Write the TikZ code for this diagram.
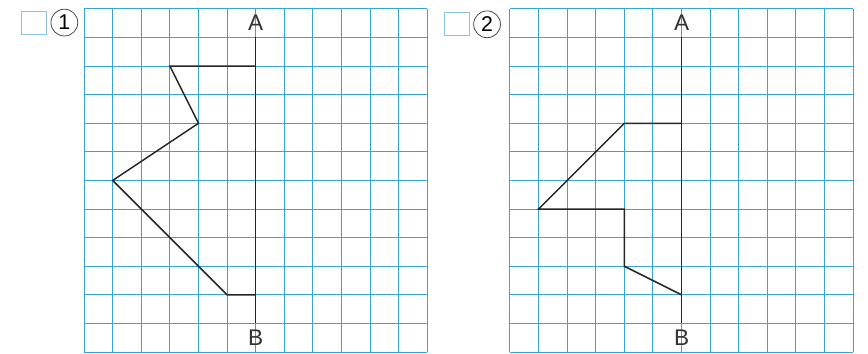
\documentclass[tikz,border=0pt]{standalone}
\usepackage{fontspec}
\setsansfont{Liberation Sans}
\usetikzlibrary{positioning}
\definecolor{gridblue}{RGB}{55,165,215}
\definecolor{boxblue}{RGB}{140,195,225}

\tikzset{
	gridline/.style={gridblue, line width=0.8pt, step=1},
	figline/.style={black!85, line width=1.2pt, line join=miter},
	axislabel/.style={font=\sffamily\fontsize{18}{18}\selectfont, inner sep=0pt, text=black!80},
	answerbox/.style={draw=boxblue, line width=0.6pt, minimum width=0.7cm, minimum height=0.64cm, inner sep=0pt},
	numcircle/.style={circle, draw=black!75, line width=0.6pt, minimum size=0.75cm, inner sep=0pt, font=\sffamily\fontsize{17}{17}\selectfont}
}

\begin{document}
\begin{tikzpicture}[x=0.8cm, y=0.8cm]
	\useasboundingbox (0,-0.04) rectangle (30.35,12.31);
	% headings
	\node[answerbox] (box1) at (1.18,11.52) {};
	\node[numcircle, right=0.11cm of box1] (num1) {1};
	\node[answerbox] (box2) at (15.96,11.46) {};
	\node[numcircle, right=0.11cm of box2] (num2) {2};
	% first figure
	\begin{scope}[shift={(2.94,0)}]
		\draw[gridline] (0,0) grid (12,12);
		\node[axislabel] (A1) at (6,11.5) {A};
		\node[axislabel] (B1) at (6,0.5) {B};
		\coordinate (topA1) at (6,11);
		\coordinate (botB1) at (6,1);
		\draw[figline] (topA1) -- (botB1);
		\coordinate (p1) at (6,10);
		\coordinate (p2) at (3,10);
		\coordinate (p3) at (4,8);
		\coordinate (p4) at (1,6);
		\coordinate (p5) at (5,2);
		\coordinate (p6) at (6,2);
		\draw[figline] (p1) -- (p2) -- (p3) -- (p4) -- (p5) -- (p6);
	\end{scope}
	% second figure
	\begin{scope}[shift={(17.83,0)}]
		\draw[gridline] (0,0) grid (12,12);
		\node[axislabel] (A2) at (6,11.5) {A};
		\node[axislabel] (B2) at (6,0.5) {B};
		\coordinate (topA2) at (6,11);
		\coordinate (botB2) at (6,1);
		\draw[figline] (topA2) -- (botB2);
		\coordinate (q1) at (6,8);
		\coordinate (q2) at (4,8);
		\coordinate (q3) at (1,5);
		\coordinate (q4) at (4,5);
		\coordinate (q5) at (4,3);
		\coordinate (q6) at (6,2);
		\draw[figline] (q1) -- (q2) -- (q3) -- (q4) -- (q5) -- (q6);
	\end{scope}
\end{tikzpicture}
\end{document}
